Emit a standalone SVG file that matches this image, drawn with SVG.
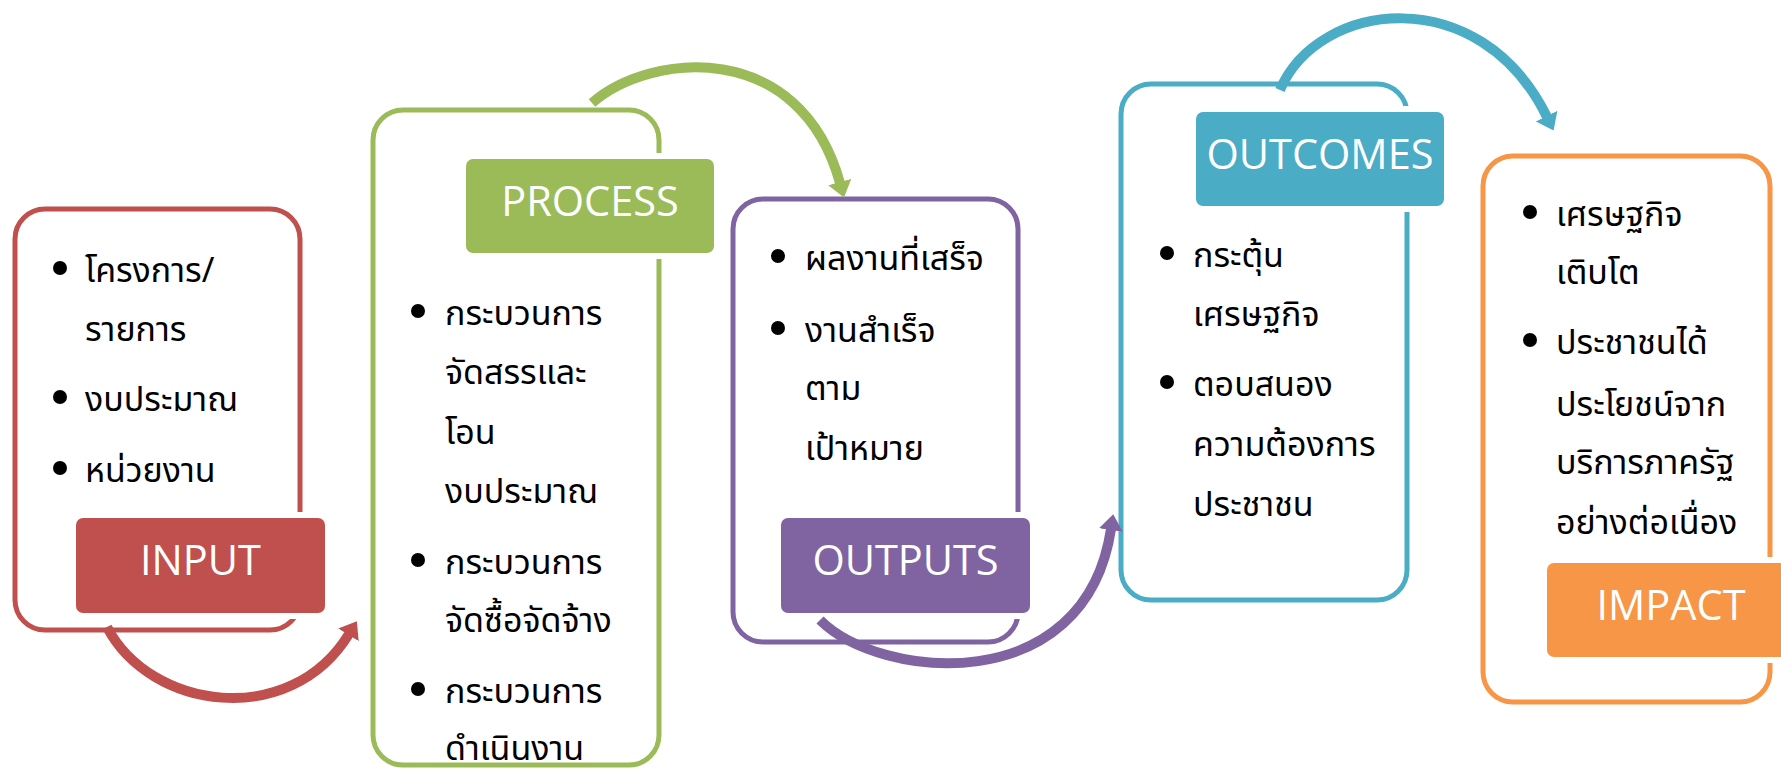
<svg xmlns="http://www.w3.org/2000/svg" width="1781" height="769" viewBox="0 0 1781 769">
<style>
.box{fill:#fff;stroke-width:5}
.halo{fill:#fff}
.lt{font-family:'Open Sans','Noto Sans',sans-serif;font-size:41.5px;fill:#fff;text-anchor:middle}
.th{font-family:'Noto Sans Thai','Noto Sans','DejaVu Sans',sans-serif;font-size:34px;fill:#000}
.dot{fill:#000}
.arr{fill:none;stroke-width:10;stroke-linecap:butt}
</style>
<defs>
<marker id="mr" viewBox="0 0 16 24" refX="1" refY="12" markerWidth="16" markerHeight="24" markerUnits="userSpaceOnUse" orient="auto"><path d="M0,0 L16,12 L0,24 z" fill="#C0504D"/></marker>
<marker id="mg" viewBox="0 0 16 24" refX="1" refY="12" markerWidth="16" markerHeight="24" markerUnits="userSpaceOnUse" orient="auto"><path d="M0,0 L16,12 L0,24 z" fill="#9BBB59"/></marker>
<marker id="mp" viewBox="0 0 16 24" refX="1" refY="12" markerWidth="16" markerHeight="24" markerUnits="userSpaceOnUse" orient="auto"><path d="M0,0 L16,12 L0,24 z" fill="#8064A2"/></marker>
<marker id="mb" viewBox="0 0 16 24" refX="1" refY="12" markerWidth="16" markerHeight="24" markerUnits="userSpaceOnUse" orient="auto"><path d="M0,0 L16,12 L0,24 z" fill="#4BACC6"/></marker>
</defs>
<rect width="1781" height="769" fill="#fff"/>

<g id="input">
<rect class="box" x="15" y="209" width="285" height="421" rx="30" stroke="#C0504D"/>
<circle class="dot" cx="60" cy="268" r="7"/>
<text class="th" x="85" y="282">โครงการ/</text>
<text class="th" x="85" y="341">รายการ</text>
<circle class="dot" cx="60" cy="397" r="7"/>
<text class="th" x="85" y="411">งบประมาณ</text>
<circle class="dot" cx="60" cy="468" r="7"/>
<text class="th" x="85" y="482">หน่วยงาน</text>
<rect class="halo" x="70" y="512" width="261" height="107" rx="12"/>
<rect x="76" y="518" width="249" height="95" rx="7" fill="#C0504D"/>
<text class="lt" x="200.5" y="575">INPUT</text>
</g>

<g id="process">
<rect class="box" x="373" y="110" width="286" height="655" rx="30" stroke="#9BBB59"/>
<circle class="dot" cx="418" cy="311" r="7"/>
<text class="th" x="445" y="325">กระบวนการ</text>
<text class="th" x="445" y="384">จัดสรรและ</text>
<text class="th" x="445" y="444">โอน</text>
<text class="th" x="445" y="503">งบประมาณ</text>
<circle class="dot" cx="418" cy="560" r="7"/>
<text class="th" x="445" y="574">กระบวนการ</text>
<text class="th" x="445" y="632">จัดซื้อจัดจ้าง</text>
<circle class="dot" cx="418" cy="689" r="7"/>
<text class="th" x="445" y="703">กระบวนการ</text>
<text class="th" x="445" y="760">ดำเนินงาน</text>
<rect class="halo" x="460" y="153" width="260" height="106" rx="12"/>
<rect x="466" y="159" width="248" height="94" rx="7" fill="#9BBB59"/>
<text class="lt" x="590" y="216">PROCESS</text>
</g>

<g id="outputs">
<rect class="box" x="733" y="199" width="285" height="443" rx="30" stroke="#8064A2"/>
<circle class="dot" cx="778" cy="256" r="7"/>
<text class="th" x="805" y="270">ผลงานที่เสร็จ</text>
<circle class="dot" cx="778" cy="328" r="7"/>
<text class="th" x="805" y="342">งานสำเร็จ</text>
<text class="th" x="805" y="400">ตาม</text>
<text class="th" x="805" y="460">เป้าหมาย</text>
<rect class="halo" x="775" y="512" width="261" height="107" rx="12"/>
<rect x="781" y="518" width="249" height="95" rx="7" fill="#8064A2"/>
<text class="lt" x="905.5" y="575">OUTPUTS</text>
</g>

<g id="outcomes">
<rect class="box" x="1121" y="84" width="286" height="516" rx="30" stroke="#4BACC6"/>
<circle class="dot" cx="1167" cy="253" r="7"/>
<text class="th" x="1193" y="267">กระตุ้น</text>
<text class="th" x="1193" y="326">เศรษฐกิจ</text>
<circle class="dot" cx="1167" cy="382" r="7"/>
<text class="th" x="1193" y="396">ตอบสนอง</text>
<text class="th" x="1193" y="456">ความต้องการ</text>
<text class="th" x="1193" y="516">ประชาชน</text>
<rect class="halo" x="1190" y="106" width="260" height="106" rx="12"/>
<rect x="1196" y="112" width="248" height="94" rx="7" fill="#4BACC6"/>
<text class="lt" x="1320" y="169">OUTCOMES</text>
</g>

<g id="impact">
<rect class="box" x="1483" y="156" width="287" height="546" rx="30" stroke="#F79646"/>
<circle class="dot" cx="1530" cy="212" r="7"/>
<text class="th" x="1556" y="226">เศรษฐกิจ</text>
<text class="th" x="1556" y="284">เติบโต</text>
<circle class="dot" cx="1530" cy="340" r="7"/>
<text class="th" x="1556" y="354">ประชาชนได้</text>
<text class="th" x="1556" y="416">ประโยชน์จาก</text>
<text class="th" x="1556" y="474">บริการภาครัฐ</text>
<text class="th" x="1556" y="534">อย่างต่อเนื่อง</text>
<rect class="halo" x="1541" y="557" width="260" height="106" rx="12"/>
<rect x="1547" y="563" width="248" height="94" rx="7" fill="#F79646"/>
<text class="lt" x="1671" y="620">IMPACT</text>
</g>

<g id="connectors">
<path class="arr" stroke="#C0504D" stroke-width="11" d="M107,627 C150,710 290,730 349,634" marker-end="url(#mr)"/>
<path class="arr" stroke="#9BBB59" d="M592,103 C650,52 800,38 840,183" marker-end="url(#mg)"/>
<path class="arr" stroke="#8064A2" d="M820,620 C880,680 1085,700 1111,529" marker-end="url(#mp)"/>
<path class="arr" stroke="#4BACC6" d="M1280,90 C1318,0 1480,-20 1547,117" marker-end="url(#mb)"/>
</g>
</svg>
